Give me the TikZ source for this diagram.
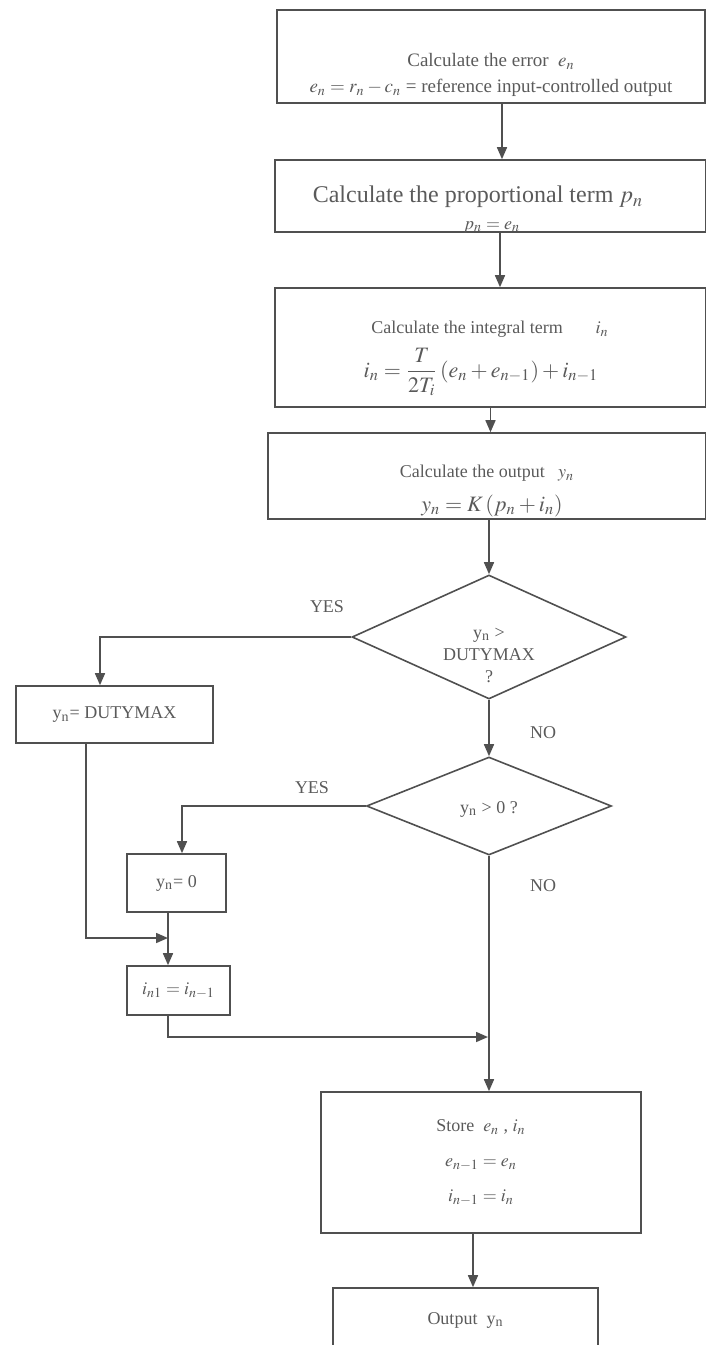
\documentclass[tikz,border=0pt]{standalone}
\usepackage{amsmath}
\usepackage{mathptmx}
\usepackage{fontspec}
\setmainfont{Liberation Serif}
\usepackage{tikz}
\usetikzlibrary{shapes.geometric,arrows.meta}

\definecolor{linec}{HTML}{505050}
\definecolor{txtc}{HTML}{5A5A5A}

\tikzset{
  box/.style={draw=linec, line width=0.8pt, rectangle, inner sep=0pt},
  decide/.style={draw=linec, line width=0.8pt, diamond, inner sep=0pt},
  txt/.style={text=txtc, font=\fontsize{9}{13}\selectfont, align=center, inner sep=1pt},
  frm/.style={text=txtc, font=\fontsize{11}{13}\selectfont, inner sep=1pt},
  lbl/.style={text=txtc, font=\fontsize{9}{11}\selectfont},
  arr/.style={draw=linec, line width=0.8pt, -{Triangle[length=6pt,width=5pt]}}
}

\begin{document}
\begin{tikzpicture}[x=0.5pt,y=-0.5pt]
  \useasboundingbox (0,0) rectangle (706,1345);

  % Draw main chain of boxes
  \node[box, minimum width=214pt, minimum height=46.5pt] (err) at (491,56.5) {};
  \node[txt, font=\fontsize{9.5}{13}\selectfont] (errtxt) at (491,75) {Calculate the error \ $e_n$\\ $e_n = r_n - c_n$ = reference input-controlled output};

  \node[box, minimum width=215.5pt, minimum height=36pt] (prop) at (490.5,196) {};
  \node[txt, font=\fontsize{12}{14}\selectfont] (proptxt) at (478,197) {Calculate the proportional term $p_n$};
  \node[txt] (propfrm) at (492,227) {$p_n = e_n$};

  \node[box, minimum width=215.5pt, minimum height=59.5pt] (integ) at (490.5,347.5) {};
  \node[txt] (integtxt) at (490,329) {Calculate the integral term \hspace{12pt} $i_n$};
  \node[frm] (integfrm) at (481,372) {$i_n = \dfrac{T}{2T_i}\left(e_n + e_{n-1}\right) + i_{n-1}$};

  \node[box, minimum width=219pt, minimum height=43pt] (outp) at (487,476) {};
  \node[txt] (outptxt) at (487,473) {Calculate the output \ \ $y_n$};
  \node[frm] (outpfrm) at (492,506) {$y_n = K\left(p_n + i_n\right)$};

  % Draw decisions
  \node[decide, minimum width=137pt, minimum height=62pt] (dmax) at (489,637) {};
  \node[txt, font=\fontsize{9}{11}\selectfont] (dmaxtxt) at (489,655) {y\textsubscript{n} >\\ DUTYMAX\\ ?};

  \node[decide, minimum width=122.5pt, minimum height=49pt] (dzero) at (489,806) {};
  \node[txt] (dzerotxt) at (489,809) {y\textsubscript{n} > 0 ?};

  % Draw side boxes
  \node[box, txt, inner sep=0pt, minimum width=98.5pt, minimum height=28.5pt] (duty) at (114.5,714.5) {y\textsubscript{n}= DUTYMAX};
  \node[box, txt, inner sep=0pt, minimum width=49.5pt, minimum height=29pt] (zero) at (176.5,883) {y\textsubscript{n}= 0};
  \node[box, txt, inner sep=0pt, minimum width=51.5pt, minimum height=24.5pt] (in1) at (178.5,990.5) {\raisebox{-4pt}{$i_{n1} = i_{n-1}$}};

  % Draw final boxes
  \node[box, txt, font=\fontsize{9}{17.5}\selectfont, minimum width=160pt, minimum height=70.5pt] (store) at (481,1162.5) {Store \ $e_n$ , $i_n$\\ $e_{n-1} = e_n$\\ $i_{n-1} = i_n$};
  \node[box, txt, minimum width=132.5pt, minimum height=32pt] (outy) at (465.5,1320) {Output \ y\textsubscript{n}};

  % Draw junctions
  \coordinate (j1) at (168,938);
  \coordinate (j2) at (488,1037);

  % Draw connectors
  \draw[arr] ([xshift=5.5pt]err.south) -- ([xshift=5.75pt]prop.north);
  \draw[arr] ([xshift=4.75pt]prop.south) -- ([xshift=4.75pt]integ.north);
  \draw[arr] (integ.south) -- (integ.south |- outp.north);
  \draw[arr] (outp.south -| dmax.north) -- (dmax.north);
  \draw[arr] (dmax.west) -| ([xshift=-7.25pt]duty.north);
  \draw[arr] (dmax.south) -- (dzero.north);
  \draw[arr] (dzero.west) -| ([xshift=2.75pt]zero.north);
  \draw[arr] ([xshift=-14.25pt]duty.south) |- (j1);
  \draw[arr] (zero.south -| j1) -- (in1.north -| j1);
  \draw[arr] (in1.south -| j1) |- (j2);
  \draw[arr] (dzero.south) -- (dzero.south |- store.north);
  \draw[arr] ([xshift=-4pt]store.south) -- ([xshift=3.75pt]outy.north);

  % Draw labels
  \node[lbl] (yes1) at (327,607) {YES};
  \node[lbl] (no1) at (543,733) {NO};
  \node[lbl] (yes2) at (312,788) {YES};
  \node[lbl] (no2) at (543,886) {NO};
\end{tikzpicture}
\end{document}
